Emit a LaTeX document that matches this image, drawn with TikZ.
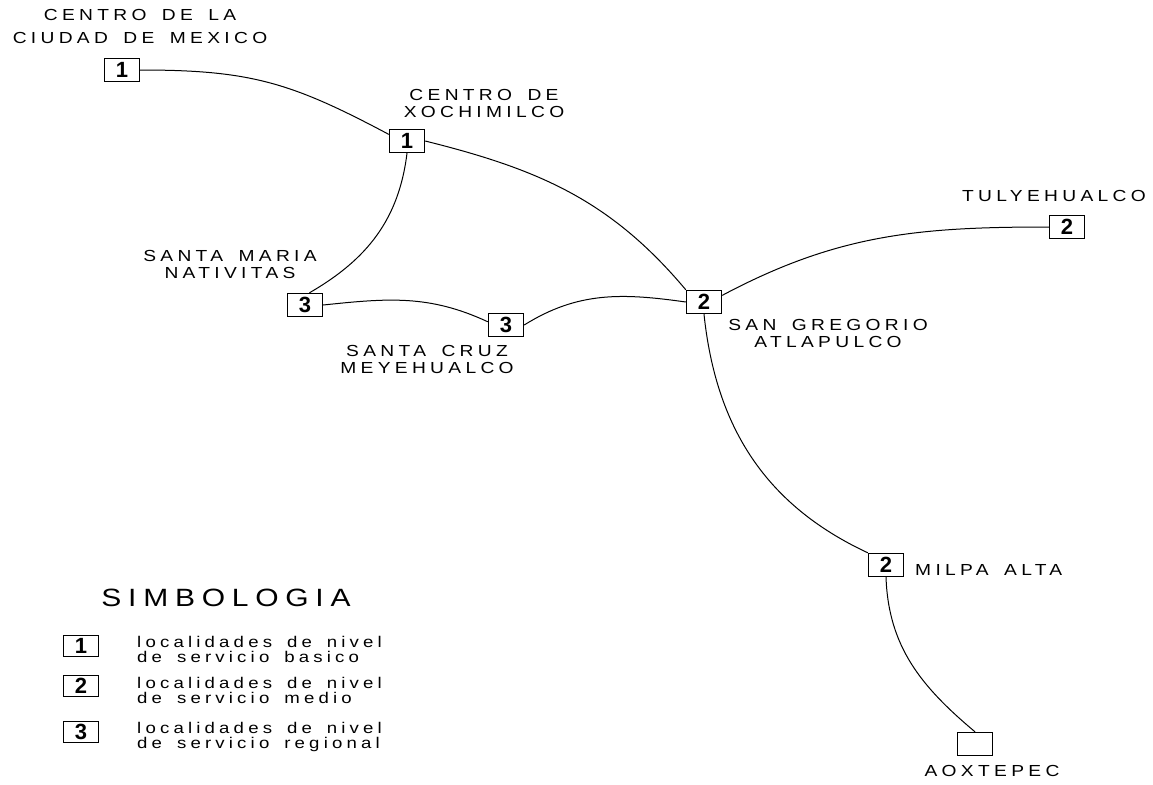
\documentclass[tikz,border=0pt]{standalone}
\usepackage{fontspec}
\setmainfont{Liberation Sans}
\newfontfamily\lblfont[LetterSpace=27,FakeStretch=1.2,WordSpace=1.6]{Liberation Sans}
\newfontfamily\digfont{Liberation Sans}
\begin{document}
\begin{tikzpicture}[x=1pt,y=1pt,
  loc/.style={draw, line width=1.4pt, minimum width=35pt, minimum height=23pt, inner sep=0pt,
    font=\digfont\bfseries\fontsize{22}{22}\selectfont},
  lab/.style={font=\lblfont\fontsize{16}{17}\selectfont, align=center, inner sep=0pt},
  leg/.style={font=\lblfont\fontsize{15.5}{15}\selectfont, align=left, inner sep=0pt, anchor=north west},
  link/.style={line width=1pt}]
\useasboundingbox (0,0) rectangle (1153,-784);
% localities
\node[loc] (cdmx) at (122,-70) {1};
\node[loc] (xoc) at (407,-141) {1};
\node[loc] (sm) at (305,-305) {3};
\node[loc] (sc) at (506,-325) {3};
\node[loc] (sg) at (704,-302) {2};
\node[loc] (tul) at (1067,-227) {2};
\node[loc] (mil) at (886,-565) {2};
\node[loc] (aox) at (975,-744) {};
% labels
\node[lab, font=\lblfont\fontsize{16}{23}\selectfont] (lcdmx) at (140,-26) {CENTRO DE LA\\CIUDAD DE MEXICO};
\node[lab] (lxoc) at (484,-103) {CENTRO DE\\XOCHIMILCO};
\node[lab] (lsm) at (230,-264) {SANTA MARIA\\NATIVITAS};
\node[lab] (lsc) at (427,-359) {SANTA CRUZ\\MEYEHUALCO};
\node[lab] (lsg) at (828,-333) {SAN GREGORIO\\ATLAPULCO};
\node[lab] (ltul) at (1054,-196) {TULYEHUALCO};
\node[lab, anchor=west] (lmil) at (915,-570) {MILPA ALTA};
\node[lab] (laox) at (992,-771) {AOXTEPEC};
% connectors
\draw[link] (cdmx.east) to[out=0,in=152,looseness=1.1] (xoc.160);
\draw[link] (xoc.east) to[out=-14,in=130] (sg.north west);
\draw[link] (xoc.south) to[out=-97,in=30] (sm.70);
\draw[link] (sm.east) to[out=6,in=155] (sc.170);
\draw[link] (sc.east) to[out=32,in=172] (sg.west);
\draw[link] (sg.20) to[out=28,in=180] (tul.west);
\draw[link] (sg.south) to[out=-84,in=155] (mil.north west);
\draw[link] (mil.south) to[out=-88,in=140] (aox.north);
% legend
\node[font=\lblfont\fontsize{25}{25}\selectfont, inner sep=0pt] (simb) at (226,-598) {SIMBOLOGIA};
\node[loc, minimum height=21pt] (k1) at (81,-646) {1};
\node[loc, minimum height=21pt] (k2) at (81,-686) {2};
\node[loc, minimum height=21pt] (k3) at (81,-732) {3};
\node[leg] (t1) at (137,-636) {localidades de nivel\\de servicio basico};
\node[leg] (t2) at (137,-677) {localidades de nivel\\de servicio medio};
\node[leg] (t3) at (137,-722) {localidades de nivel\\de servicio regional};
\end{tikzpicture}
\end{document}
